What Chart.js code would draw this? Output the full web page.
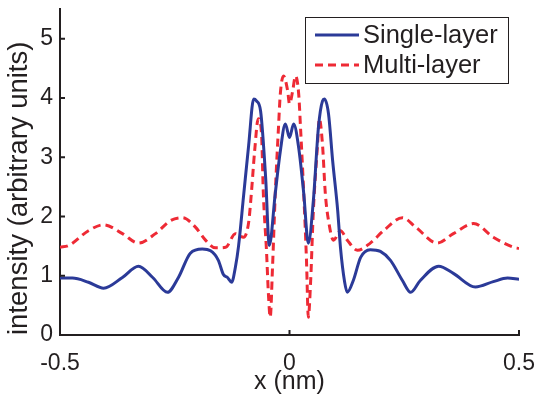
<!DOCTYPE html>
<html>
<head>
<meta charset="utf-8">
<script src="https://cdn.jsdelivr.net/npm/chart.js@4/dist/chart.umd.min.js"></script>
<style>
html,body{margin:0;padding:0;background:#fff;}
#wrap{width:538px;height:397px;position:relative;}
</style>
</head>
<body>
<div id="wrap"><canvas id="c" width="538" height="397"></canvas></div>
<script>
// ---- data ----
const xSingle = [-0.5,-0.473,-0.438,-0.405,-0.364,-0.329,-0.298,-0.266,-0.242,-0.216,-0.190,-0.172,-0.155,-0.144,-0.135,-0.126,-0.118,-0.111,-0.100,-0.089,-0.078,-0.072,-0.063,-0.052,-0.044,-0.031,-0.020,-0.009,0,0.009,0.020,0.031,0.041,0.052,0.063,0.072,0.076,0.085,0.094,0.105,0.111,0.120,0.126,0.139,0.155,0.176,0.198,0.220,0.246,0.264,0.285,0.325,0.357,0.405,0.444,0.475,0.5];
const ySingle = [0.96,0.96,0.89,0.79,0.97,1.16,0.97,0.72,0.97,1.38,1.45,1.42,1.26,1.02,0.97,0.89,1.14,1.5,2.35,3.2,3.98,3.95,3.78,2.66,1.51,2.39,3.1,3.56,3.33,3.56,3.16,2.39,1.55,2.27,3.5,3.95,3.98,3.73,2.94,2.1,1.48,0.9,0.72,0.92,1.31,1.44,1.41,1.26,0.92,0.72,0.92,1.16,1.04,0.81,0.9,0.96,0.94];
const xMulti = [-0.5,-0.481,-0.438,-0.405,-0.364,-0.329,-0.292,-0.259,-0.233,-0.205,-0.183,-0.161,-0.139,-0.118,-0.100,-0.089,-0.083,-0.076,-0.068,-0.061,-0.057,-0.050,-0.046,-0.042,-0.037,-0.031,-0.024,-0.020,-0.013,-0.004,0,0.007,0.013,0.020,0.024,0.031,0.037,0.041,0.046,0.052,0.061,0.065,0.072,0.078,0.085,0.096,0.111,0.126,0.148,0.176,0.205,0.246,0.275,0.322,0.357,0.401,0.444,0.488,0.5];
const yMulti = [1.48,1.51,1.76,1.86,1.71,1.55,1.71,1.93,1.98,1.82,1.6,1.47,1.48,1.71,1.65,1.9,2.4,3.1,3.65,3.4,2.39,1.4,0.7,0.3,1.14,2.39,3.5,4.07,4.37,4.12,3.9,4.12,4.37,4.07,3.5,2.39,1.26,0.3,0.9,2.1,3.2,3.65,3.2,2.39,1.93,1.6,1.76,1.6,1.43,1.55,1.76,1.98,1.82,1.55,1.71,1.88,1.65,1.48,1.46];
const xTicks = [-0.5, 0, 0.5];
const yTicks = [0, 1, 2, 3, 4, 5];
const seriesNames = ['Single-layer', 'Multi-layer'];
const xTitle = 'x (nm)';
const yTitle = 'intensity (arbitrary units)';

const FONT = "'Liberation Sans', Arial, Helvetica, sans-serif";
const INK = '#231f20';
const BLUE = '#2b3a98';
const RED = '#ee2a35';

const pts = (xs, ys) => xs.map((x, i) => ({x: x, y: ys[i]}));

// inward tick marks + boxed legend
const decor = {
  id: 'decor',
  afterDraw(chart) {
    const ctx = chart.ctx;
    const xs = chart.scales.x, ys = chart.scales.y;
    const a = chart.chartArea;
    ctx.save();
    ctx.strokeStyle = INK;
    ctx.lineWidth = 2;
    ctx.beginPath();
    xTicks.forEach(v => { const px = xs.getPixelForValue(v); ctx.moveTo(px, a.bottom); ctx.lineTo(px, a.bottom - 5); });
    yTicks.forEach(v => { const py = ys.getPixelForValue(v); ctx.moveTo(a.left, py); ctx.lineTo(a.left + 5, py); });
    ctx.stroke();
    // legend
    const bx = 305, by = 17, bw = 203, bh = 66;
    ctx.fillStyle = '#fff';
    ctx.fillRect(bx, by, bw, bh);
    ctx.lineWidth = 1;
    ctx.strokeStyle = INK;
    ctx.strokeRect(bx + 0.5, by + 0.5, bw, bh);
    const rows = [by + 18, by + 48];
    chart.data.datasets.forEach((ds, i) => {
      const y = rows[i];
      ctx.beginPath();
      ctx.strokeStyle = ds.borderColor;
      ctx.lineWidth = 3;
      ctx.setLineDash(ds.borderDash || []);
      ctx.moveTo(315, y); ctx.lineTo(359, y);
      ctx.stroke();
      ctx.setLineDash([]);
      ctx.fillStyle = INK;
      ctx.font = '25.5px ' + FONT;
      ctx.textBaseline = 'middle';
      ctx.textAlign = 'left';
      ctx.fillText(ds.label, 363, y + 1);
    });
    ctx.restore();
  }
};

new Chart(document.getElementById('c'), {
  type: 'line',
  data: {
    datasets: [
      {label: seriesNames[0], data: pts(xSingle, ySingle), borderColor: BLUE, borderWidth: 3, pointRadius: 0, fill: false, cubicInterpolationMode: 'monotone'},
      {label: seriesNames[1], data: pts(xMulti, yMulti), borderColor: RED, borderWidth: 3, borderDash: [8, 5], pointRadius: 0, fill: false, cubicInterpolationMode: 'monotone'}
    ]
  },
  options: {
    responsive: false,
    animation: false,
    layout: {padding: {top: 9, right: 19, left: 0, bottom: 0}},
    plugins: {legend: {display: false}, tooltip: {enabled: false}},
    scales: {
      x: {
        type: 'linear', min: -0.5, max: 0.5,
        afterBuildTicks: s => { s.ticks = xTicks.map(v => ({value: v})); },
        afterFit: s => { s.height = 62; s.paddingLeft = 0; s.paddingRight = 0; },
        grid: {display: false},
        border: {display: true, color: INK, width: 2},
        ticks: {color: INK, font: {family: FONT, size: 23}, padding: 7, maxRotation: 0, callback: v => String(v)},
        title: {display: true, text: xTitle, color: INK, font: {family: FONT, size: 25}, padding: {top: 0, bottom: 0}}
      },
      y: {
        type: 'linear', min: 0, max: 5.5,
        afterBuildTicks: s => { s.ticks = yTicks.map(v => ({value: v})); },
        afterFit: s => { s.width = 60; s.paddingTop = 0; s.paddingBottom = 0; },
        grid: {display: false, tickLength: 0},
        border: {display: true, color: INK, width: 2},
        ticks: {color: INK, font: {family: FONT, size: 23}, padding: 7, callback: v => String(v)},
        title: {display: true, text: yTitle, align: 'start', color: INK, font: {family: FONT, size: 27.5}, padding: {top: 3, bottom: 0}}
      }
    }
  },
  plugins: [decor]
});
</script>
</body>
</html>
